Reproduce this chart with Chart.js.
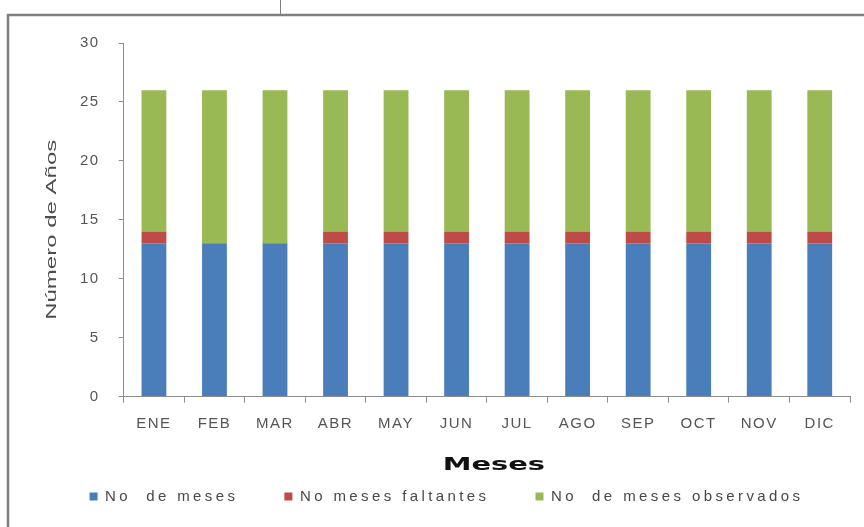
<!DOCTYPE html>
<html>
<head>
<meta charset="utf-8">
<script src="https://cdn.jsdelivr.net/npm/chart.js@4.4.1/dist/chart.umd.min.js"></script>
<style>
  html, body { margin: 0; padding: 0; background: #fff; }
  #wrap { width: 864px; height: 527px; position: relative; }
</style>
</head>
<body>
<div id="wrap"><canvas id="chart"></canvas></div>
<script>
const meses = ['ENE', 'FEB', 'MAR', 'ABR', 'MAY', 'JUN', 'JUL', 'AGO', 'SEP', 'OCT', 'NOV', 'DIC'];
const deMeses = [13, 13, 13, 13, 13, 13, 13, 13, 13, 13, 13, 13];
const faltantes = [1, 0, 0, 1, 1, 1, 1, 1, 1, 1, 1, 1];
const observados = [12, 13, 13, 12, 12, 12, 12, 12, 12, 12, 12, 12];
const yTicks = [0, 5, 10, 15, 20, 25, 30];

const COLORS = {
  blue: '#4A7EBB',
  red: '#BE4B48',
  green: '#98B954',
  axis: '#8c8c8c',
  text: '#555555',
};

// run a method of a chart element with its own letter spacing
function withSpacing(obj, name, spacing) {
  const orig = obj[name];
  obj[name] = function (...args) {
    const c = this.ctx;
    const prev = c.letterSpacing;
    c.letterSpacing = spacing;
    const res = orig.apply(this, args);
    c.letterSpacing = prev;
    return res;
  };
}

// draw an axis title stretched along its length
function stretchTitle(scale, sx, sy, dx, dy) {
  const orig = scale.drawTitle;
  scale.drawTitle = function () {
    const c = this.ctx;
    const cx = (this.left + this.right) / 2;
    const cy = (this.top + this.bottom) / 2;
    c.save();
    c.translate(cx + dx, cy + dy);
    c.scale(sx, sy);
    c.translate(-cx, -cy);
    orig.call(this);
    c.restore();
  };
}

const stylePlugin = {
  id: 'wideText',
  afterInit(chart) {
    withSpacing(chart.legend, 'fit', '3.4px');
    withSpacing(chart.legend, 'draw', '3.4px');
  },
  beforeLayout(chart) {
    const { x, y } = chart.scales;
    if (!x._patched) {
      withSpacing(x, 'update', '1.5px');
      withSpacing(x, 'drawLabels', '1.5px');
      withSpacing(y, 'update', '1.5px');
      withSpacing(y, 'drawLabels', '1.5px');
      stretchTitle(x, 1.7, 1, 7, 0);
      stretchTitle(y, 1, 1.6, 0, 10);
      x._patched = true;
    }
  },
  // gray frame of the figure box
  beforeDraw(chart) {
    const { ctx } = chart;
    ctx.save();
    ctx.fillStyle = '#fff';
    ctx.fillRect(0, 0, chart.width, chart.height);
    ctx.strokeStyle = '#7f7f7f';
    ctx.lineWidth = 2.5;
    ctx.beginPath();
    ctx.moveTo(8, chart.height);
    ctx.lineTo(8, 15);
    ctx.lineTo(chart.width, 15);
    ctx.stroke();
    ctx.lineWidth = 1;
    ctx.beginPath();
    ctx.moveTo(280.5, 0);
    ctx.lineTo(280.5, 14);
    ctx.stroke();
    ctx.restore();
  },
};

const ctx = document.getElementById('chart').getContext('2d');
new Chart(ctx, {
  type: 'bar',
  data: {
    labels: meses,
    datasets: [
      { label: 'No  de meses', data: deMeses, backgroundColor: COLORS.blue },
      { label: 'No meses faltantes', data: faltantes, backgroundColor: COLORS.red },
      { label: 'No  de meses observados', data: observados, backgroundColor: COLORS.green },
    ],
  },
  options: {
    responsive: true,
    maintainAspectRatio: false,
    animation: false,
    datasets: {
      bar: { categoryPercentage: 1, barPercentage: 0.41 },
    },
    layout: { padding: { left: 43, right: 14, top: 43, bottom: 13 } },
    plugins: {
      legend: {
        position: 'bottom',
        labels: {
          boxWidth: 8,
          boxHeight: 8,
          padding: 46,
          color: '#484848',
          font: { family: 'Liberation Sans', size: 15 },
        },
      },
      tooltip: { enabled: false },
    },
    scales: {
      x: {
        stacked: true,
        border: { color: COLORS.axis },
        grid: { drawOnChartArea: false, color: COLORS.axis, tickLength: 6 },
        ticks: { color: COLORS.text, font: { family: 'Liberation Sans', size: 15 }, padding: 12 },
        title: {
          display: true,
          text: 'Meses',
          color: '#111',
          font: { family: 'DejaVu Sans', size: 17, weight: 'bold' },
          padding: { top: 11, bottom: -33 },
        },
      },
      y: {
        stacked: true,
        min: 0,
        max: 30,
        afterBuildTicks(axis) {
          axis.ticks = yTicks.map((v) => ({ value: v }));
        },
        border: { color: COLORS.axis },
        grid: { drawOnChartArea: false, color: COLORS.axis, tickLength: 5 },
        ticks: { color: COLORS.text, font: { family: 'Liberation Sans', size: 15 }, padding: 19 },
        title: {
          display: true,
          text: 'Número de Años',
          color: '#4d4d4d',
          font: { family: 'Liberation Sans', size: 15 },
          padding: { top: 0, bottom: 0 },
        },
      },
    },
  },
  plugins: [stylePlugin],
});
</script>
</body>
</html>
